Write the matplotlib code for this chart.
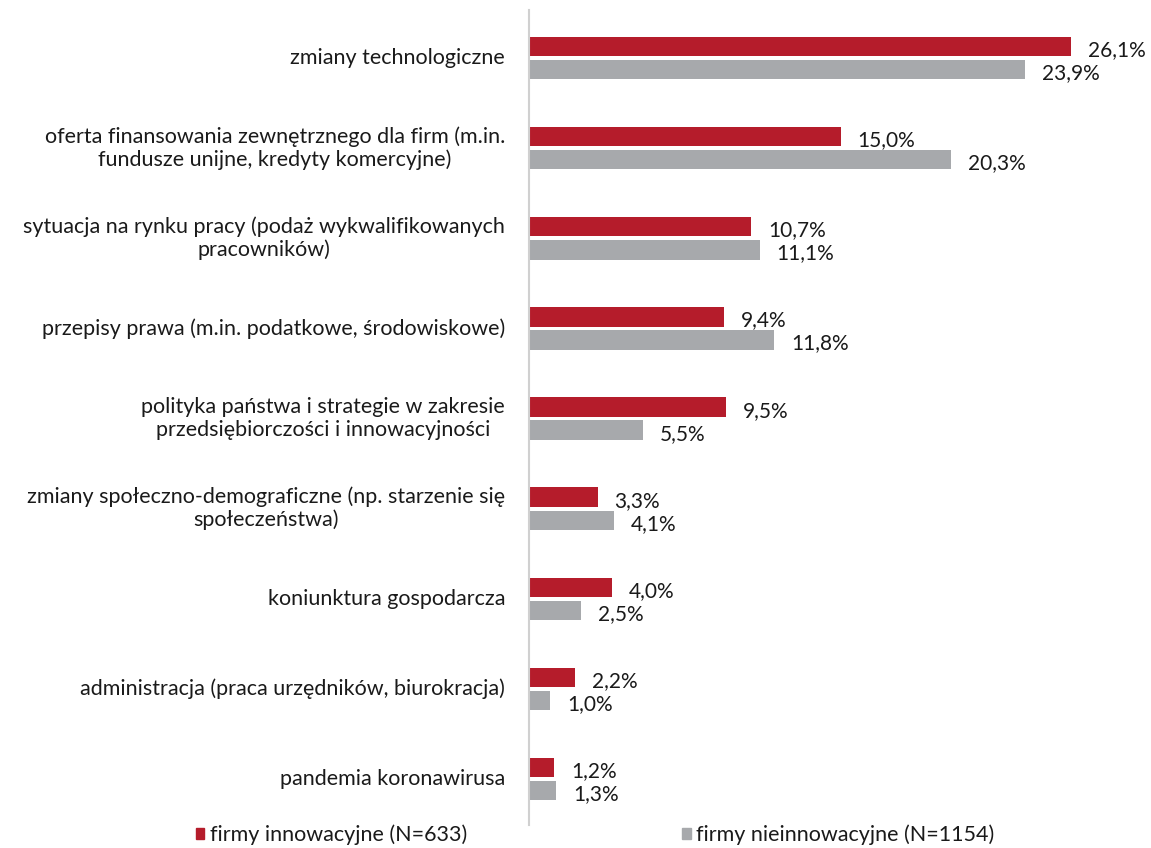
import numpy as np
from matplotlib import pyplot as plt
from matplotlib.patches import Patch

plt.rcParams['font.family'] = ['Lato', 'DejaVu Sans']

categories = [
    "zmiany technologiczne",
    "oferta finansowania zewnętrznego dla firm (m.in.\nfundusze unijne, kredyty komercyjne)",
    "sytuacja na rynku pracy (podaż wykwalifikowanych\npracowników)",
    "przepisy prawa (m.in. podatkowe, środowiskowe)",
    "polityka państwa i strategie w zakresie\nprzedsiębiorczości i innowacyjności",
    "zmiany społeczno-demograficzne (np. starzenie się\nspołeczeństwa)",
    "koniunktura gospodarcza",
    "administracja (praca urzędników, biurokracja)",
    "pandemia koronawirusa",
]
innowacyjne = [26.1, 15.0, 10.7, 9.4, 9.5, 3.3, 4.0, 2.2, 1.2]
nieinnowacyjne = [23.9, 20.3, 11.1, 11.8, 5.5, 4.1, 2.5, 1.0, 1.3]
series_names = ["firmy innowacyjne (N=633)", "firmy nieinnowacyjne (N=1154)"]

red = "#B51C2B"
gray = "#A7A9AC"
txt = "#1a1a1a"

fig = plt.figure(figsize=(11.51, 8.48), dpi=100)
ax = fig.add_axes([529 / 1151, 23 / 848, 622 / 1151, 815 / 848])

y = np.arange(len(categories))
h = 0.215
off = 0.128
ax.barh(y - off, innowacyjne, height=h, color=red)
ax.barh(y + off, nieinnowacyjne, height=h, color=gray)

fs = 15.5
vfs = 15
def fmt(v):
    return f"{v:.1f}".replace(".", ",") + "%"

for yi, v in zip(y, innowacyjne):
    ax.text(v + 0.82, yi - off + 0.04, fmt(v), va='center', ha='left',
            fontsize=vfs, color=txt)
for yi, v in zip(y, nieinnowacyjne):
    ax.text(v + 0.82, yi + off + 0.04, fmt(v), va='center', ha='left',
            fontsize=vfs, color=txt)

for yi, c in zip(y, categories):
    ax.text(-1.15, yi, c, ha='right', va='center', multialignment='center',
            fontsize=fs, color=txt, linespacing=1.15)

ax.set_xlim(0, 29.95)
ax.set_ylim(8.51, -0.533)
ax.set_xticks([])
ax.set_yticks([])
for s in ['top', 'right', 'bottom']:
    ax.spines[s].set_visible(False)
ax.spines['left'].set_color('#D0D0D0')
ax.spines['left'].set_linewidth(1.5)

handles = [Patch(color=red), Patch(color=gray)]
fig.legend(handles, series_names, loc='center', bbox_to_anchor=(0.517, 13 / 848),
           ncol=2, frameon=False, fontsize=fs, handlelength=0.4, handleheight=0.4,
           handletextpad=0.25, columnspacing=10.0, labelcolor=txt,
           borderpad=0, borderaxespad=0)

fig.savefig("out.png", dpi=100)
